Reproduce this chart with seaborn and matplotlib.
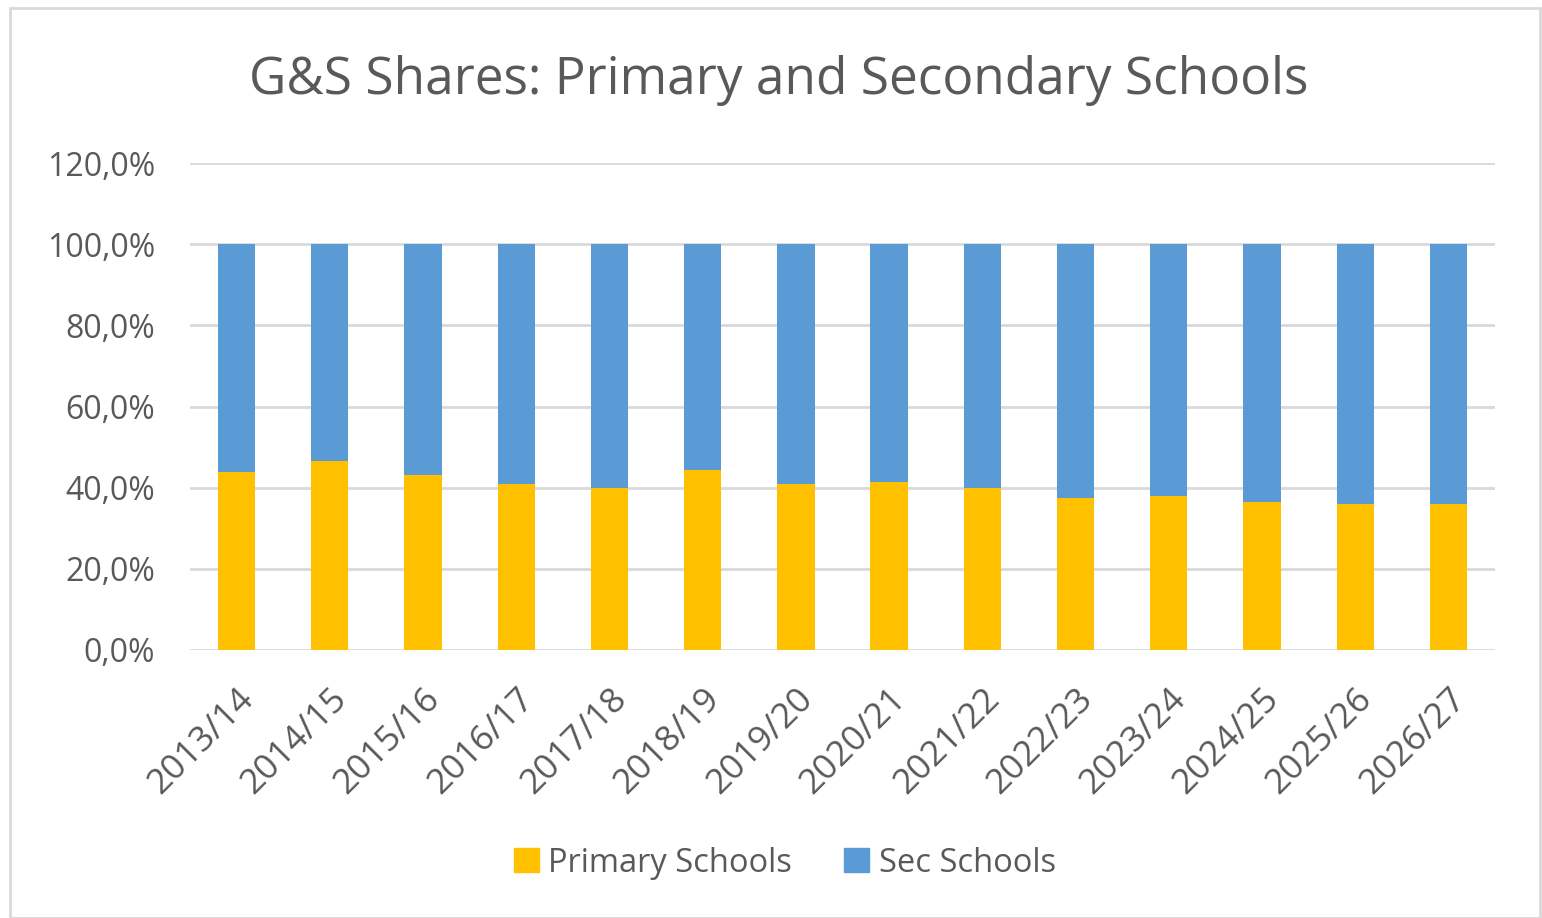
import numpy as np
import pandas as pd
import seaborn as sns
import matplotlib.pyplot as plt
import matplotlib.transforms as mtransforms
from matplotlib.patches import Patch, Rectangle
from matplotlib.ticker import FuncFormatter

years = ['2013/14', '2014/15', '2015/16', '2016/17', '2017/18', '2018/19', '2019/20',
         '2020/21', '2021/22', '2022/23', '2023/24', '2024/25', '2025/26', '2026/27']
primary_share = [43.9, 46.5, 43.0, 40.9, 39.9, 44.4, 41.0,
                 41.4, 39.9, 37.4, 37.9, 36.5, 35.9, 35.9]
sec_share = [100 - p for p in primary_share]

PRIMARY_COLOR = '#FFC000'
SEC_COLOR = '#5B9BD5'
TEXT_COLOR = '#595959'


def main():
    sns.set_style('white')
    plt.rcParams['font.family'] = ['Open Sans', 'DejaVu Sans']

    df = pd.DataFrame({'year': years, 'primary': primary_share, 'sec': sec_share})
    df['total'] = df['primary'] + df['sec']

    fig = plt.figure(figsize=(15.42, 9.18), dpi=100)
    ax = fig.add_axes([190 / 1542, 1 - 650 / 918, 1305 / 1542, 487 / 918])

    # stacked: draw the total in blue, then primary on top of it
    sns.barplot(data=df, x='year', y='total', color=SEC_COLOR, width=0.4,
                saturation=1, linewidth=0, ax=ax, zorder=3)
    sns.barplot(data=df, x='year', y='primary', color=PRIMARY_COLOR, width=0.4,
                saturation=1, linewidth=0, ax=ax, zorder=3)

    ax.set_ylim(0, 120)
    ax.set_yticks(np.arange(0, 121, 20))
    ax.yaxis.set_major_formatter(FuncFormatter(lambda v, _: f'{v:.1f}%'.replace('.', ',')))
    ax.grid(axis='y', color='#D9D9D9', linewidth=2, zorder=0)
    ax.set_axisbelow(True)
    sns.despine(ax=ax, left=True, bottom=True, top=True, right=True)
    ax.set_xlabel('')
    ax.set_ylabel('')
    ax.tick_params(axis='y', labelsize=23, labelcolor=TEXT_COLOR, length=0, pad=25)
    ax.tick_params(axis='x', labelsize=25.5, labelcolor=TEXT_COLOR, length=0, pad=0)
    plt.setp(ax.get_xticklabels(), rotation=45, ha='right', va='center', rotation_mode='anchor')
    shift = mtransforms.ScaledTranslation(0.12, -0.44, fig.dpi_scale_trans)
    for lbl in ax.get_xticklabels():
        lbl.set_transform(lbl.get_transform() + shift)

    fig.text(0.5 + 8 / 1542, 1 - 80 / 918, 'G&S Shares: Primary and Secondary Schools',
             ha='center', va='center', fontsize=37, color=TEXT_COLOR)

    handles = [Patch(color=PRIMARY_COLOR, label='Primary Schools'),
               Patch(color=SEC_COLOR, label='Sec Schools')]
    fig.legend(handles=handles, loc='center', bbox_to_anchor=(785 / 1542, 1 - 863 / 918),
               ncol=2, frameon=False, fontsize=23.5, labelcolor=TEXT_COLOR,
               handlelength=0.75, handleheight=0.75, handletextpad=0.3, columnspacing=1.6)

    fig.patches.append(Rectangle((10 / 1542, 0), 1530 / 1542, 910 / 918, transform=fig.transFigure,
                                 fill=False, edgecolor='#D9D9D9', linewidth=2))

    fig.savefig('out.png', dpi=100)


if __name__ == '__main__':
    main()
